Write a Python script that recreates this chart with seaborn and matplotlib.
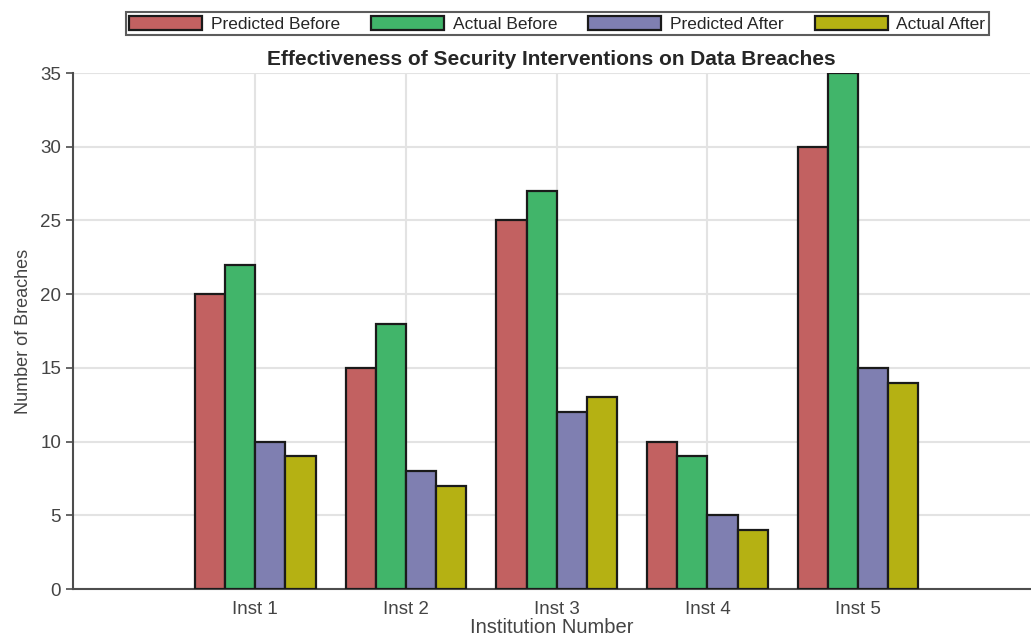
import pandas as pd
import seaborn as sns
import matplotlib.pyplot as plt

# chart values
institutions = ["Inst 1", "Inst 2", "Inst 3", "Inst 4", "Inst 5"]
predicted_before = [20, 15, 25, 10, 30]
actual_before = [22, 18, 27, 9, 35]
predicted_after = [10, 8, 12, 5, 15]
actual_after = [9, 7, 13, 4, 14]

series_names = ["Predicted Before", "Actual Before", "Predicted After", "Actual After"]
series_colors = ["#C26161", "#41B56A", "#7F7FB1", "#B5B113"]

df = pd.DataFrame({
    "Institution": institutions * 4,
    "Series": [s for s in series_names for _ in institutions],
    "Breaches": predicted_before + actual_before + predicted_after + actual_after,
})

sns.set_style("white")
plt.rcParams["font.family"] = ["Liberation Sans", "DejaVu Sans"]

fig = plt.figure(figsize=(10.31, 6.37), dpi=100)
ax = fig.add_axes([73 / 1031, 48 / 637, 957 / 1031, 516 / 637])

sns.barplot(data=df, x="Institution", y="Breaches", hue="Series",
            hue_order=series_names, palette=series_colors, saturation=1,
            width=0.8, edgecolor="#1a1a1a", linewidth=1.6, ax=ax, zorder=3)

ax.set_xlim(-1.21, 5.14)
ax.set_ylim(0, 35)
ax.set_yticks(range(0, 36, 5))
ax.grid(True, color="#e3e3e3", linewidth=1.5, zorder=0)
ax.set_axisbelow(True)

for side in ["top", "right"]:
    ax.spines[side].set_visible(False)
for side in ["left", "bottom"]:
    ax.spines[side].set_color("#4d4d4d")
    ax.spines[side].set_linewidth(1.5)

ax.tick_params(axis="y", left=True, direction="out", length=5, width=1.2,
               color="#4d4d4d", labelsize=13.5, labelcolor="#444444")
ax.tick_params(axis="x", bottom=False, labelsize=13.5, labelcolor="#444444", pad=5)

ax.set_title("Effectiveness of Security Interventions on Data Breaches",
             fontsize=15, fontweight="bold", pad=6)
ax.set_xlabel("Institution Number", fontsize=14.5, color="#444444", labelpad=0)
ax.set_ylabel("Number of Breaches", fontsize=13, color="#444444", labelpad=6)

handles, labels = ax.get_legend_handles_labels()
ax.legend(handles, labels, loc="upper center", bbox_to_anchor=(0.506, 1.118),
          ncol=4, frameon=True, fancybox=False, edgecolor="#333333",
          fontsize=12.5, handlelength=4.2, handleheight=0.9, handletextpad=0.5,
          columnspacing=1.8, borderpad=0.2, borderaxespad=0)
ax.get_legend().get_frame().set_linewidth(1.5)

plt.savefig("out.png", dpi=100)
